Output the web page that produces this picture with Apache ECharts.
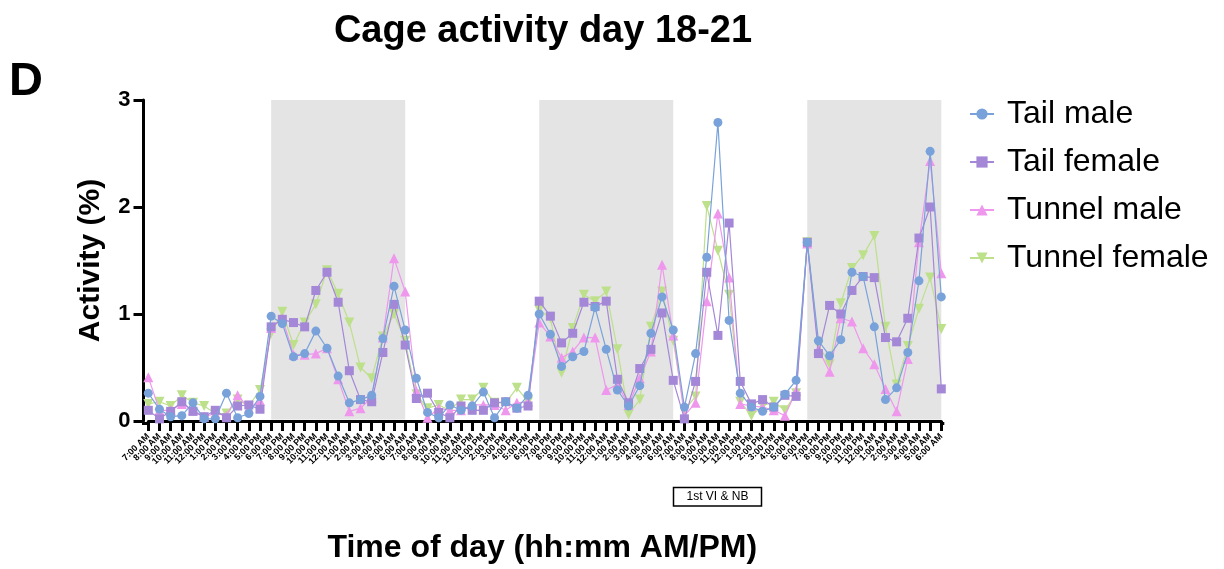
<!DOCTYPE html>
<html>
<head>
<meta charset="utf-8">
<script src="https://cdn.jsdelivr.net/npm/echarts@6/dist/echarts.min.js"></script>
<style>
html,body{margin:0;padding:0;background:#fff;}
#chart{width:1224px;height:569px;}
</style>
</head>
<body>
<div id="chart"></div>
<script>
const hourLabels = [
 "7:00 AM","8:00 AM","9:00 AM","10:00 AM","11:00 AM","12:00 PM","1:00 PM","2:00 PM","3:00 PM","4:00 PM","5:00 PM","6:00 PM",
 "7:00 PM","8:00 PM","9:00 PM","10:00 PM","11:00 PM","12:00 AM","1:00 AM","2:00 AM","3:00 AM","4:00 AM","5:00 AM","6:00 AM",
 "7:00 AM","8:00 AM","9:00 AM","10:00 AM","11:00 AM","12:00 PM","1:00 PM","2:00 PM","3:00 PM","4:00 PM","5:00 PM","6:00 PM",
 "7:00 PM","8:00 PM","9:00 PM","10:00 PM","11:00 PM","12:00 AM","1:00 AM","2:00 AM","3:00 AM","4:00 AM","5:00 AM","6:00 AM",
 "7:00 AM","8:00 AM","9:00 AM","10:00 AM","11:00 AM","12:00 PM","1:00 PM","2:00 PM","3:00 PM","4:00 PM","5:00 PM","6:00 PM",
 "7:00 PM","8:00 PM","9:00 PM","10:00 PM","11:00 PM","12:00 AM","1:00 AM","2:00 AM","3:00 AM","4:00 AM","5:00 AM","6:00 AM"
];

const tailMale = [
 0.26,0.11,0.04,0.05,0.17,0.02,0.02,0.26,0.03,0.07,0.23,
 0.98,0.91,0.60,0.63,0.84,0.68,0.42,0.17,0.20,0.24,0.77,1.26,0.85,
 0.40,0.08,0.03,0.15,0.10,0.14,0.27,0.03,0.18,0.12,0.24,
 1.00,0.81,0.51,0.60,0.65,1.06,0.67,0.29,0.14,0.33,0.82,1.16,0.85,
 0.13,0.63,1.53,2.79,0.94,0.26,0.13,0.09,0.13,0.25,0.38,
 1.67,0.75,0.61,0.76,1.39,1.35,0.88,0.20,0.31,0.64,1.31,2.52,1.16
];
const tailFemale = [
 0.10,0.02,0.09,0.18,0.09,0.04,0.10,0.03,0.14,0.15,0.11,
 0.88,0.95,0.92,0.88,1.22,1.39,1.11,0.47,0.20,0.18,0.64,1.09,0.71,
 0.21,0.26,0.08,0.03,0.14,0.10,0.10,0.17,0.18,0.12,0.14,
 1.12,0.98,0.73,0.82,1.11,1.07,1.12,0.39,0.17,0.49,0.67,1.01,0.38,
 0.02,0.37,1.39,0.80,1.85,0.37,0.16,0.20,0.13,0.24,0.23,
 1.67,0.63,1.08,1.00,1.22,1.35,1.34,0.78,0.74,0.96,1.71,2.00,0.30
];
const tunnelMale = [
 0.41,0.10,0.10,0.16,0.10,0.04,0.07,0.05,0.24,0.12,0.19,
 0.87,0.96,0.62,0.62,0.63,0.68,0.39,0.09,0.12,0.22,0.78,1.52,1.21,
 0.28,0.03,0.12,0.10,0.10,0.15,0.15,0.15,0.10,0.17,0.18,
 0.92,0.79,0.59,0.65,0.78,0.78,0.29,0.34,0.15,0.40,0.65,1.46,0.80,
 0.05,0.17,1.12,1.94,1.34,0.16,0.14,0.13,0.10,0.05,0.28,
 1.66,0.67,0.46,0.96,0.93,0.68,0.53,0.30,0.09,0.58,1.67,2.43,1.38
];
const tunnelFemale = [
 0.16,0.18,0.14,0.24,0.17,0.14,0.07,0.07,0.20,0.14,0.29,
 0.82,1.02,0.71,0.92,1.09,1.41,1.19,0.92,0.50,0.40,0.79,1.00,0.75,
 0.25,0.12,0.15,0.10,0.20,0.20,0.31,0.17,0.17,0.31,0.18,
 1.04,0.96,0.45,0.87,1.18,1.12,1.21,0.67,0.06,0.20,0.88,1.21,0.75,
 0.10,0.23,2.01,1.59,1.18,0.18,0.05,0.14,0.18,0.10,0.26,
 1.67,0.71,0.53,1.10,1.43,1.55,1.73,0.88,0.34,0.70,1.05,1.34,0.86
];
const yTicks = [0, 1, 2, 3];
// dark phases (index ranges on the hourly axis)
const darkPhases = [[11, 23], [35, 47], [59, 71]];

const FONT = "'Liberation Sans', Arial, Helvetica, sans-serif";
const toPairs = arr => arr.map((v, i) => [i, v]);

const chart = echarts.init(document.getElementById('chart'), null, {renderer: 'canvas'});

function mkSeries(name, data, color, symbol, size, rotate, z) {
  return {
    name: name, type: 'line', data: toPairs(data), z: z,
    symbol: symbol, symbolSize: size, symbolRotate: rotate,
    itemStyle: {color: color}, lineStyle: {color: color, width: 1.2},
    emphasis: {disabled: true}, animation: false
  };
}

const sTunnelFemale = mkSeries('Tunnel female', tunnelFemale, '#BDE08B', 'triangle', 10, 180, 2);
sTunnelFemale.clip = false;
sTunnelFemale.markArea = {
  silent: true,
  itemStyle: {color: '#E4E4E4'},
  data: darkPhases.map(p => [{xAxis: p[0] - 0.04, yAxis: 0.014}, {xAxis: p[1] + 0.14, yAxis: 3.057}])
};

// plot frame (grid) geometry
const G = {left: 148.3, top: 100, width: 793, height: 323.5, axisPad: 4.8};

const option = {
  backgroundColor: '#fff',
  animation: false,
  title: {
    text: 'Cage activity day 18-21', left: 538, top: 8, textAlign: 'center',
    textStyle: {fontFamily: FONT, fontWeight: 'bold', fontSize: 38, color: '#000'}
  },
  legend: {
    orient: 'vertical', left: 969, top: 97, padding: 0,
    itemWidth: 24, itemHeight: 14, itemGap: 14,
    data: ['Tail male', 'Tail female', 'Tunnel male', 'Tunnel female'],
    textStyle: {fontFamily: FONT, fontSize: 32, color: '#000', lineHeight: 34, padding: [0, 0, 0, 8]}
  },
  grid: {left: G.left, top: G.top, width: G.width, height: G.height, containLabel: false},
  xAxis: {
    type: 'category', data: hourLabels, boundaryGap: false,
    name: 'Time of day (hh:mm AM/PM)', nameLocation: 'middle', nameGap: 111,
    nameTextStyle: {fontFamily: FONT, fontWeight: 'bold', fontSize: 32, color: '#000', padding: [0, 0, 0, -5]},
    axisLine: {show: true, onZero: false, lineStyle: {color: '#000', width: 3}},
    axisTick: {show: true, interval: 0, alignWithLabel: true, length: 10, lineStyle: {color: '#000', width: 3}},
    axisLabel: {
      show: true, interval: 0, rotate: 45, margin: 14,
      fontFamily: FONT, fontWeight: 'bold', fontSize: 9, color: '#000'
    },
    splitLine: {show: false}
  },
  yAxis: {
    type: 'value', min: 0, max: 3, interval: 1, offset: G.axisPad,
    name: 'Activity (%)', nameLocation: 'middle', nameGap: 38, nameRotate: 90,
    nameTextStyle: {fontFamily: FONT, fontWeight: 'bold', fontSize: 30, color: '#000'},
    axisLine: {show: true, lineStyle: {color: '#000', width: 3}},
    axisTick: {show: true, length: 10, lineStyle: {color: '#000', width: 3}},
    axisLabel: {margin: 13, fontFamily: FONT, fontWeight: 'bold', fontSize: 22, color: '#000',
      formatter: v => yTicks.indexOf(v) >= 0 ? String(v) : ''},
    splitLine: {show: false}
  },
  graphic: [
    // x-axis line continues to the y axis on the left and slightly past the last tick on the right
    {type: 'line', z: 50, shape: {x1: G.left - G.axisPad - 1.5, y1: G.top + G.height, x2: G.left, y2: G.top + G.height}, style: {stroke: '#000', lineWidth: 3}},
    {type: 'line', z: 50, shape: {x1: G.left + G.width, y1: G.top + G.height, x2: G.left + G.width + 3, y2: G.top + G.height}, style: {stroke: '#000', lineWidth: 3}},
    {type: 'text', left: 9, top: 59, style: {text: 'D', fontFamily: FONT, fontWeight: 'bold', fontSize: 47, fill: '#000'}},
    {type: 'rect', shape: {x: 673.5, y: 487.5, width: 88, height: 18.5}, style: {fill: '#fff', stroke: '#000', lineWidth: 1.5}},
    {type: 'text', x: 717.5, y: 497, style: {text: '1st VI & NB', fontFamily: FONT, fontSize: 12, fill: '#000', align: 'center', verticalAlign: 'middle'}}
  ],
  series: [
    mkSeries('Tail male', tailMale, '#79A2DA', 'circle', 9, 0, 5),
    mkSeries('Tail female', tailFemale, '#A487D6', 'rect', 9, 0, 4),
    mkSeries('Tunnel male', tunnelMale, '#EE97EC', 'triangle', 10, 0, 3),
    sTunnelFemale
  ]
};
chart.setOption(option);
</script>
</body>
</html>
